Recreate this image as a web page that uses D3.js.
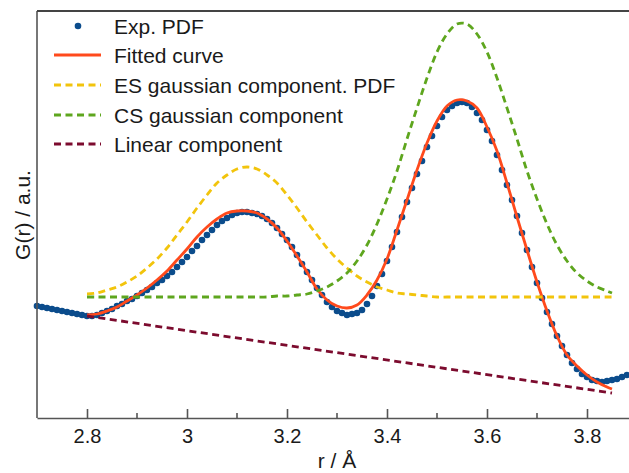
<!DOCTYPE html>
<html>
<head>
<meta charset="utf-8">
<script src="https://cdn.jsdelivr.net/npm/d3@7"></script>
<style>
  body { margin: 0; background: #fff; }
  text { font-family: "Liberation Sans", Arial, sans-serif; fill: #1a1a1a; }
</style>
</head>
<body>
<div id="chart"></div>
<script>
// experimental PDF, r from 2.70 to 3.88 in 0.01 steps
const rStart = 2.70, rStep = 0.01;
const expPdf = [
  1.12, 1.11, 1.10, 1.09, 1.08, 1.07, 1.06, 1.05, 1.04, 1.03,
  1.02, 1.02, 1.03, 1.05, 1.07, 1.09, 1.12, 1.14, 1.17, 1.19,
  1.22, 1.25, 1.28, 1.31, 1.35, 1.38, 1.42, 1.46, 1.51, 1.56,
  1.61, 1.67, 1.72, 1.78, 1.83, 1.88, 1.93, 1.97, 2.00, 2.03,
  2.05, 2.06, 2.06, 2.05, 2.04, 2.02, 1.99, 1.95, 1.90, 1.84,
  1.78, 1.71, 1.63, 1.54, 1.46, 1.38, 1.30, 1.23, 1.16, 1.11,
  1.07, 1.05, 1.03, 1.04, 1.05, 1.08, 1.14, 1.22, 1.32, 1.44,
  1.57, 1.71, 1.86, 2.01, 2.16, 2.30, 2.44, 2.57, 2.71, 2.82,
  2.92, 3.01, 3.08, 3.12, 3.15, 3.16, 3.15, 3.11, 3.05, 2.98,
  2.88, 2.77, 2.63, 2.48, 2.33, 2.18, 2.02, 1.85, 1.68, 1.51,
  1.35, 1.20, 1.06, 0.94, 0.82, 0.72, 0.63, 0.55, 0.49, 0.44,
  0.41, 0.38, 0.37, 0.36, 0.37, 0.38, 0.39, 0.41, 0.43
];

// fit grid
const rFit = [
  2.80, 2.82, 2.84, 2.86, 2.88, 2.90, 2.92, 2.94, 2.96, 2.98,
  3.00, 3.02, 3.04, 3.06, 3.08, 3.10, 3.12, 3.14, 3.16, 3.18,
  3.20, 3.22, 3.24, 3.26, 3.28, 3.30, 3.32, 3.34, 3.36, 3.38,
  3.40, 3.42, 3.44, 3.46, 3.48, 3.50, 3.52, 3.54, 3.56, 3.58,
  3.60, 3.62, 3.64, 3.66, 3.68, 3.70, 3.72, 3.74, 3.76, 3.78,
  3.80, 3.82, 3.84, 3.85
];
const fitCurve = [
  1.03, 1.04, 1.07, 1.11, 1.17, 1.23, 1.30, 1.38, 1.47, 1.58,
  1.69, 1.81, 1.91, 1.99, 2.05, 2.07, 2.07, 2.05, 1.99, 1.90,
  1.77, 1.62, 1.46, 1.29, 1.18, 1.12, 1.10, 1.13, 1.23, 1.38,
  1.59, 1.88, 2.18, 2.48, 2.75, 2.97, 3.12, 3.18, 3.17, 3.10,
  2.91, 2.67, 2.35, 2.01, 1.68, 1.36, 1.07, 0.82, 0.63, 0.52,
  0.43, 0.36, 0.31, 0.29
];
const esGauss = [
  1.24, 1.25, 1.28, 1.31, 1.36, 1.42, 1.50, 1.59, 1.70, 1.83,
  1.96, 2.10, 2.23, 2.35, 2.43, 2.49, 2.51, 2.49, 2.43, 2.35,
  2.23, 2.10, 1.96, 1.83, 1.70, 1.59, 1.50, 1.42, 1.36, 1.31,
  1.28, 1.25, 1.24, 1.23, 1.22, 1.21, 1.21, 1.21, 1.21, 1.21,
  1.21, 1.21, 1.21, 1.21, 1.21, 1.21, 1.21, 1.21, 1.21, 1.21,
  1.21, 1.21, 1.21, 1.21
];
const csGauss = [
  1.21, 1.21, 1.21, 1.21, 1.21, 1.21, 1.21, 1.21, 1.21, 1.21,
  1.21, 1.21, 1.21, 1.21, 1.21, 1.21, 1.21, 1.21, 1.21, 1.22,
  1.22, 1.23, 1.24, 1.27, 1.31, 1.37, 1.45, 1.57, 1.73, 1.94,
  2.19, 2.47, 2.79, 3.10, 3.40, 3.66, 3.84, 3.94, 3.94, 3.84,
  3.66, 3.40, 3.10, 2.79, 2.47, 2.19, 1.94, 1.73, 1.57, 1.45,
  1.37, 1.31, 1.27, 1.25
];
const rLinear = [2.80, 3.85];
const linearComp = [1.02, 0.25];

const xTicks = [2.8, 3.0, 3.2, 3.4, 3.6, 3.8];
const xMinorTicks = [2.9, 3.1, 3.3, 3.5, 3.7];

const legendLabels = ["Exp. PDF", "Fitted curve", "ES gaussian component. PDF", "CS gaussian component", "Linear component"];
const colors = ["#0b4c8c", "#ff4a1c", "#f2c40c", "#5ea61e", "#7c0b2e"];

const width = 629, height = 473;
const plotLeft = 37, plotTop = 11, plotBottom = 418;

const svg = d3.select("#chart").append("svg")
  .attr("width", width)
  .attr("height", height);

const x = d3.scaleLinear().domain([2.7, 3.9]).range([plotLeft, 637]);
const y = d3.scaleLinear().domain([0, 4.07]).range([plotBottom, plotTop]);

const pdfData = expPdf.map((v, i) => [rStart + i * rStep, v]);
const zip = (rs, vs) => rs.map((r, i) => [r, vs[i]]);

const line = d3.line()
  .x(d => x(d[0]))
  .y(d => y(d[1]))
  .curve(d3.curveCatmullRom);

// dots
svg.append("g").selectAll("circle")
  .data(pdfData)
  .enter().append("circle")
  .attr("cx", d => x(d[0]))
  .attr("cy", d => y(d[1]))
  .attr("r", 3.3)
  .attr("fill", colors[0]);

svg.append("path")
  .attr("d", line(zip(rFit, fitCurve)))
  .attr("fill", "none")
  .attr("stroke", colors[1])
  .attr("stroke-width", 2.8);

const dashed = [[esGauss, colors[2]], [csGauss, colors[3]]];
dashed.forEach(([vals, c]) => {
  svg.append("path")
    .attr("d", line(zip(rFit, vals)))
    .attr("fill", "none")
    .attr("stroke", c)
    .attr("stroke-width", 2.8)
    .attr("stroke-dasharray", "7,4.5");
});

svg.append("path")
  .attr("d", d3.line().x(d => x(d[0])).y(d => y(d[1]))(zip(rLinear, linearComp)))
  .attr("fill", "none")
  .attr("stroke", colors[4])
  .attr("stroke-width", 2.8)
  .attr("stroke-dasharray", "7,4.5");

// axes
const xAxis = svg.append("g")
  .attr("transform", `translate(0,${plotBottom})`)
  .call(d3.axisBottom(x)
    .tickValues(xTicks)
    .tickFormat(d3.format("~f"))
    .tickSizeInner(-9)
    .tickSizeOuter(0)
    .tickPadding(11));
xAxis.select(".domain").attr("stroke", "#555").attr("stroke-width", 1.6);
xAxis.selectAll(".tick line").attr("stroke", "#555").attr("stroke-width", 1.6);
xAxis.selectAll(".tick text")
  .attr("font-size", 20)
  .attr("font-family", "Liberation Sans, Arial, sans-serif")
  .attr("fill", "#1a1a1a");

svg.append("g").selectAll("line")
  .data(xMinorTicks)
  .enter().append("line")
  .attr("x1", d => x(d)).attr("x2", d => x(d))
  .attr("y1", plotBottom).attr("y2", plotBottom - 5)
  .attr("stroke", "#555")
  .attr("stroke-width", 1.6);

svg.append("line")
  .attr("x1", plotLeft).attr("x2", plotLeft)
  .attr("y1", plotTop).attr("y2", plotBottom)
  .attr("stroke", "#555").attr("stroke-width", 1.6);

svg.append("line")
  .attr("x1", plotLeft).attr("x2", width)
  .attr("y1", plotTop).attr("y2", plotTop)
  .attr("stroke", "#444").attr("stroke-width", 1.8);

// axis titles
svg.append("text")
  .attr("x", 337)
  .attr("y", 468)
  .attr("text-anchor", "middle")
  .attr("font-size", 21)
  .text("r / Å");

svg.append("text")
  .attr("transform", "translate(30,215) rotate(-90)")
  .attr("text-anchor", "middle")
  .attr("font-size", 21)
  .text("G(r) / a.u.");

// legend
const legend = svg.append("g");
const rowY = [26, 55, 85, 115, 144];
legendLabels.forEach((lab, i) => {
  const g = legend.append("g").attr("transform", `translate(0,${rowY[i]})`);
  if (i === 0) {
    g.append("circle").attr("cx", 78).attr("cy", 0).attr("r", 3.3).attr("fill", colors[0]);
  } else {
    g.append("line")
      .attr("x1", 54).attr("x2", 101)
      .attr("y1", 0).attr("y2", 0)
      .attr("stroke", colors[i])
      .attr("stroke-width", 2.8)
      .attr("stroke-dasharray", i === 1 ? null : "7,4.5");
  }
  g.append("text")
    .attr("x", 114)
    .attr("y", 7.5)
    .attr("font-size", 21)
    .text(lab);
});
</script>
</body>
</html>
